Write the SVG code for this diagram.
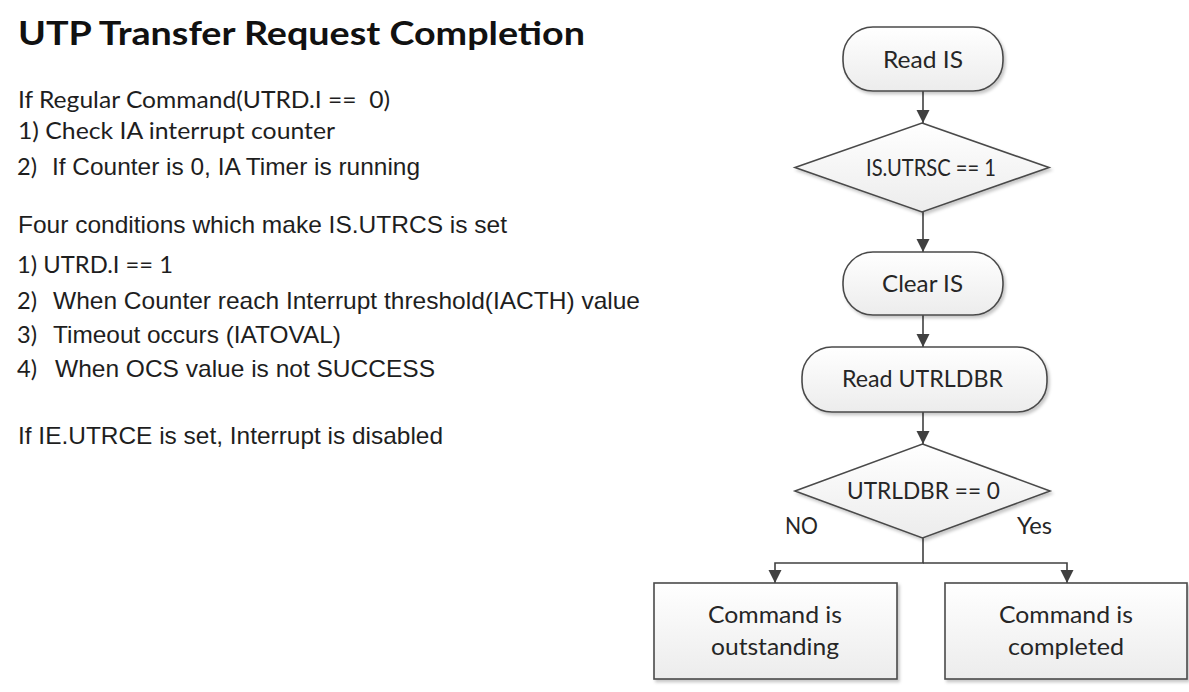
<svg xmlns="http://www.w3.org/2000/svg" width="1189" height="692" viewBox="0 0 1189 692">
<style>
.cal{font-family:Lato,"Open Sans","Liberation Sans",sans-serif;fill:#1e1e1e;}
.ari{font-family:"Liberation Sans",Arial,sans-serif;fill:#1e1e1e;font-size:24px;}
.title{font-family:Lato,"Open Sans","Liberation Sans",sans-serif;font-weight:bold;font-size:33px;fill:#111;}
.shape{fill:url(#g);stroke:#4a4a4a;stroke-width:1.6;filter:url(#sh);}
.lbl{font-family:Lato,"Open Sans","Liberation Sans",sans-serif;font-size:23px;fill:#262626;text-anchor:middle;}
.con{fill:none;stroke:#404040;stroke-width:1.6;}
</style>
<defs>
<linearGradient id="g" x1="0" y1="0" x2="0" y2="1">
<stop offset="0" stop-color="#ffffff"/>
<stop offset="1" stop-color="#ececec"/>
</linearGradient>
<filter id="sh" x="-10%" y="-10%" width="130%" height="140%">
<feDropShadow dx="2" dy="2.5" stdDeviation="1.5" flood-color="#000" flood-opacity="0.22"/>
</filter>
<marker id="ah" markerUnits="userSpaceOnUse" markerWidth="14" markerHeight="14" refX="13" refY="6.5" orient="auto">
<path d="M0,0 L13,6.5 L0,13 z" fill="#404040"/>
</marker>
</defs>
<rect width="1189" height="692" fill="#ffffff"/>

<g id="left-text">
<text class="title" x="18" y="45" textLength="567" lengthAdjust="spacingAndGlyphs">UTP Transfer Request Completion</text>
<text class="cal" x="18" y="108" font-size="23" textLength="372" lengthAdjust="spacingAndGlyphs" xml:space="preserve">If Regular Command(UTRD.I ==  0)</text>
<text class="cal" x="18" y="139" font-size="23" textLength="317" lengthAdjust="spacingAndGlyphs">1) Check IA interrupt counter</text>
<text class="cal" x="17" y="175" font-size="23" textLength="20" lengthAdjust="spacingAndGlyphs">2)</text>
<text class="ari" x="52" y="175" textLength="368" lengthAdjust="spacingAndGlyphs">If Counter is 0, IA Timer is running</text>
<text class="ari" x="18" y="233" textLength="489" lengthAdjust="spacingAndGlyphs">Four conditions which make IS.UTRCS is set</text>
<text class="cal" x="17" y="273" font-size="23" textLength="156" lengthAdjust="spacingAndGlyphs">1) UTRD.I == 1</text>
<text class="cal" x="17" y="309" font-size="23" textLength="20" lengthAdjust="spacingAndGlyphs">2)</text>
<text class="ari" x="53" y="309" textLength="587" lengthAdjust="spacingAndGlyphs">When Counter reach Interrupt threshold(IACTH) value</text>
<text class="cal" x="17" y="343" font-size="23" textLength="20" lengthAdjust="spacingAndGlyphs">3)</text>
<text class="ari" x="53" y="343" textLength="288" lengthAdjust="spacingAndGlyphs">Timeout occurs (IATOVAL)</text>
<text class="cal" x="17" y="377" font-size="23" textLength="20" lengthAdjust="spacingAndGlyphs">4)</text>
<text class="ari" x="55" y="377" textLength="380" lengthAdjust="spacingAndGlyphs">When OCS value is not SUCCESS</text>
<text class="ari" x="18" y="444" textLength="425" lengthAdjust="spacingAndGlyphs">If IE.UTRCE is set, Interrupt is disabled</text>
</g>

<g id="connectors">
<line class="con" x1="923" y1="91" x2="923" y2="123" marker-end="url(#ah)"/>
<line class="con" x1="923" y1="212" x2="923" y2="252" marker-end="url(#ah)"/>
<line class="con" x1="923" y1="315" x2="923" y2="347" marker-end="url(#ah)"/>
<line class="con" x1="923" y1="412" x2="923" y2="444" marker-end="url(#ah)"/>
<polyline class="con" points="923,538 923,563 775,563 775,583" marker-end="url(#ah)"/>
<polyline class="con" points="923,563 1067,563 1067,583" marker-end="url(#ah)"/>
</g>

<g id="read-is">
<rect class="shape" x="843" y="27" width="160" height="64" rx="30" ry="30"/>
<text class="lbl" x="923" y="68" textLength="80" lengthAdjust="spacingAndGlyphs">Read IS</text>
</g>
<g id="is-utrsc">
<polygon class="shape" points="922,123 1049,167.5 922,212 795,167.5"/>
<text class="lbl" x="931" y="176" font-size="22" textLength="130" lengthAdjust="spacingAndGlyphs">IS.UTRSC == 1</text>
</g>
<g id="clear-is">
<rect class="shape" x="843" y="252" width="160" height="63" rx="30" ry="30"/>
<text class="lbl" x="922.5" y="292" textLength="81" lengthAdjust="spacingAndGlyphs">Clear IS</text>
</g>
<g id="read-utrldbr">
<rect class="shape" x="802" y="347" width="245" height="65" rx="30" ry="30"/>
<text class="lbl" x="922.5" y="387" textLength="161" lengthAdjust="spacingAndGlyphs">Read UTRLDBR</text>
</g>
<g id="utrldbr-zero">
<polygon class="shape" points="922.5,444 1050,491 922.5,538 795,491"/>
<text class="lbl" x="923.5" y="499" textLength="153" lengthAdjust="spacingAndGlyphs">UTRLDBR == 0</text>
<text class="lbl" x="801.5" y="534" textLength="33" lengthAdjust="spacingAndGlyphs">NO</text>
<text class="lbl" x="1034.5" y="534" textLength="35" lengthAdjust="spacingAndGlyphs">Yes</text>
</g>
<g id="outstanding">
<rect class="shape" x="654" y="583" width="243" height="96"/>
<text class="lbl" x="775" y="623" textLength="134" lengthAdjust="spacingAndGlyphs">Command is</text>
<text class="lbl" x="775" y="655" textLength="128" lengthAdjust="spacingAndGlyphs">outstanding</text>
</g>
<g id="completed">
<rect class="shape" x="945" y="583" width="242" height="96"/>
<text class="lbl" x="1066" y="623" textLength="134" lengthAdjust="spacingAndGlyphs">Command is</text>
<text class="lbl" x="1066" y="655" textLength="116" lengthAdjust="spacingAndGlyphs">completed</text>
</g>
</svg>
